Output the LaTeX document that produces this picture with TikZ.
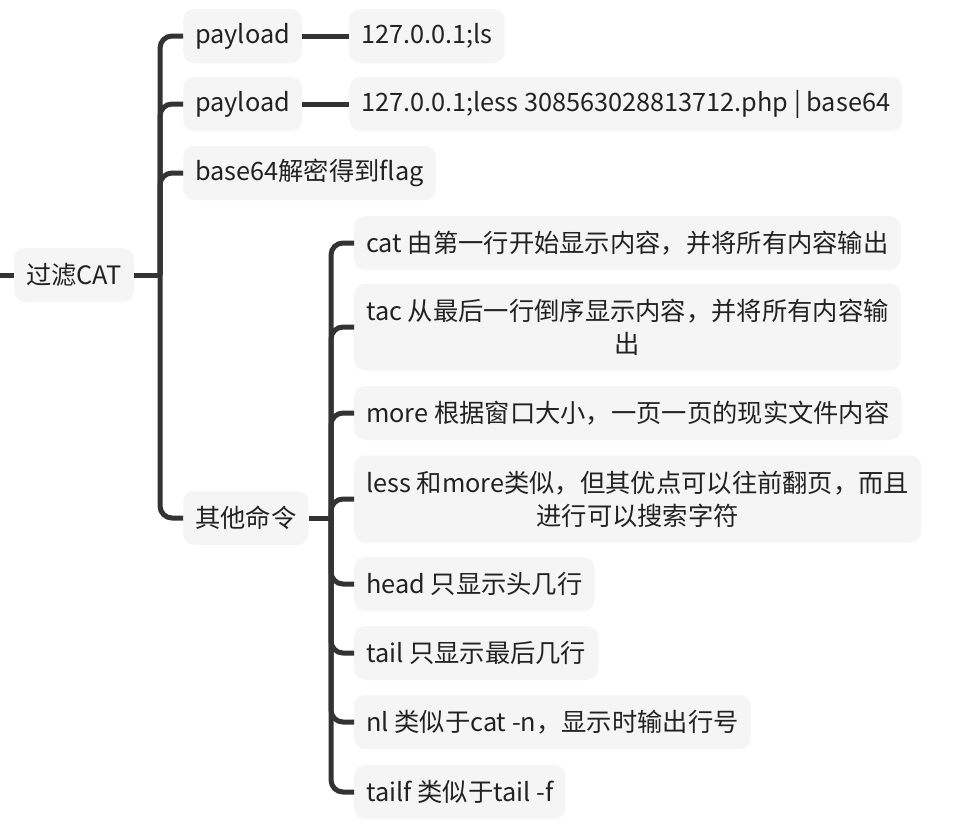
\documentclass[tikz,border=0pt]{standalone}
\usepackage{fontspec}
\setmainfont{Noto Sans CJK SC}
\begin{document}
\begin{tikzpicture}[x=1pt,y=-1pt,
  box/.style={fill=boxfill,rounded corners=11pt,inner xsep=12pt,inner ysep=0pt,minimum height=54pt,anchor=west,text=txt,font=\fontsize{25.3}{33}\selectfont,align=center},
  conn/.style={draw=ln,line width=5pt,rounded corners=12pt}]
\definecolor{boxfill}{HTML}{F5F5F5}
\definecolor{ln}{HTML}{333333}
\definecolor{txt}{HTML}{222222}
\useasboundingbox[fill=white] (0,0) rectangle (970,823);
% root
\node[box] (root) at (14,275) {过滤CAT};
\coordinate (stub) at (0,275);
\draw[conn] (stub) -- (root.west);
% level 1
\node[box] (p1) at (183,36) {payload};
\node[box] (p2) at (183,104) {payload};
\node[box] (b64) at (183,173) {base64解密得到flag};
\node[box] (other) at (183,518) {其他命令};
\node[box] (ip1) at (349,36) {127.0.0.1;ls};
\node[box] (ip2) at (349,104) {127.0.0.1;less 308563028813712.php | base64};
% level 2
\node[box] (c1) at (354,243) {cat 由第一行开始显示内容，并将所有内容输出};
\node[box,minimum height=87pt] (c2) at (354,327) {tac 从最后一行倒序显示内容，并将所有内容输\\出};
\node[box] (c3) at (354,413) {more 根据窗口大小，一页一页的现实文件内容};
\node[box,minimum height=87pt] (c4) at (354,499) {less 和more类似，但其优点可以往前翻页，而且\\进行可以搜索字符};
\node[box] (c5) at (354,584) {head 只显示头几行};
\node[box] (c6) at (354,653) {tail 只显示最后几行};
\node[box] (c7) at (354,722) {nl 类似于cat -n，显示时输出行号};
\node[box] (c8) at (354,792) {tailf 类似于tail -f};
% connectors level 1
\coordinate (j1) at (160,275);
\draw[conn] (root.east) -- (j1);
\foreach \n in {p1,p2,b64,other} \draw[conn] (j1) |- (\n.west);
\draw[conn] (p1.east) -- (ip1.west);
\draw[conn] (p2.east) -- (ip2.west);
% connectors level 2
\coordinate (j2) at (331,518);
\draw[conn] (other.east) -- (j2);
\foreach \n in {c1,c2,c3,c4,c5,c6,c7,c8} \draw[conn] (j2) |- (\n.west);
\end{tikzpicture}
\end{document}
